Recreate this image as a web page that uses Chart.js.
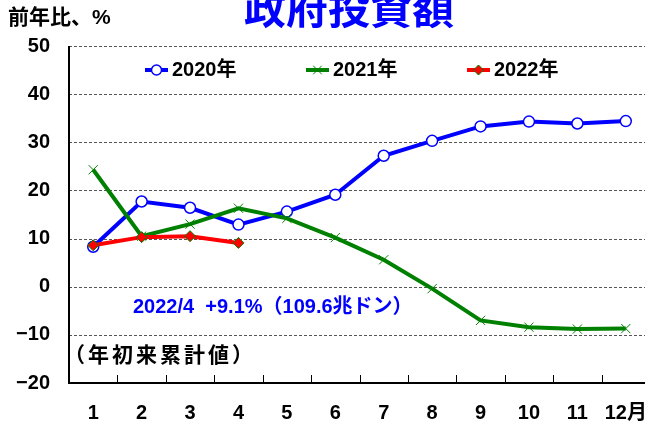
<!DOCTYPE html>
<html><head><meta charset="utf-8">
<script src="https://cdn.jsdelivr.net/npm/chart.js@4/dist/chart.umd.min.js"></script>
<style>
html,body{margin:0;padding:0;background:#fff;overflow:hidden;width:645px;height:426px}
#wrap{position:relative;width:660px;height:426px}
</style></head>
<body><div id="wrap"><canvas id="c" width="660" height="426"></canvas></div>
<script>
const months = ['1','2','3','4','5','6','7','8','9','10','11','12月'];
const y2020 = [8.3,17.7,16.4,12.9,15.6,19.1,27.2,30.3,33.3,34.3,33.9,34.4];
const y2021 = [24.3,10.5,13.0,16.3,14.2,10.2,5.6,-0.4,-7.0,-8.4,-8.8,-8.7];
const y2022 = [8.6,10.3,10.5,9.1];
const yMin = -20, yMax = 50, yStep = 10;
const seriesNames = ['2020年','2021年','2022年'];
const titleText = '政府投資額';
const yTitle = '前年比、%';
const note1 = '2022/4  +9.1%（109.6兆ドン）';
const note2 = '（年初来累計値）';

const FONT = "'Liberation Sans','Noto Sans CJK JP',sans-serif";

const decor = {
  id:'decor',
  beforeDatasetsDraw(chart){
    const {ctx, chartArea:a, scales:{x,y}} = chart;
    ctx.save();
    ctx.strokeStyle = '#555'; ctx.lineWidth = 1; ctx.setLineDash([3,2]);
    y.ticks.forEach(t => {
      if (t.value === yMin) return;
      const py = Math.round(y.getPixelForValue(t.value)) + 0.5;
      ctx.beginPath(); ctx.moveTo(a.left, py); ctx.lineTo(a.right, py); ctx.stroke();
    });
    ctx.setLineDash([]);
    ctx.strokeStyle = '#000'; ctx.lineWidth = 2;
    ctx.beginPath();
    ctx.moveTo(a.left, a.top); ctx.lineTo(a.left, a.bottom); ctx.lineTo(a.right, a.bottom);
    ctx.stroke();
    ctx.lineWidth = 1;
    for (let i = 0; i < months.length - 1; i++) {
      const px = Math.round((x.getPixelForValue(i) + x.getPixelForValue(i+1)) / 2) + 0.5;
      ctx.beginPath(); ctx.moveTo(px, a.bottom); ctx.lineTo(px, a.bottom - 8); ctx.stroke();
    }
    ctx.restore();
  },
  afterDraw(chart){
    const {ctx} = chart;
    ctx.save();
    ctx.fillStyle = '#0000ff';
    ctx.font = "bold 42px 'Noto Sans CJK JP',sans-serif";
    ctx.textAlign = 'center'; ctx.textBaseline = 'middle';
    ctx.fillText(titleText, 349, 8);
    ctx.fillStyle = '#000';
    ctx.font = "bold 21px " + FONT;
    ctx.textAlign = 'left';
    ctx.fillText(yTitle, 8, 18);
    const legendItems = [{x:145, ds:0}, {x:306, ds:1}, {x:467, ds:2}];
    const ly = 70;
    legendItems.forEach(it => {
      const ds = chart.data.datasets[it.ds];
      ctx.strokeStyle = ds.borderColor; ctx.lineWidth = 4;
      ctx.beginPath(); ctx.moveTo(it.x, ly); ctx.lineTo(it.x + 23, ly); ctx.stroke();
      ctx.fillStyle = ds.pointBackgroundColor || '#fff';
      ctx.strokeStyle = ds.pointBorderColor; ctx.lineWidth = ds.pointBorderWidth;
      Chart.helpers.drawPoint(ctx, {pointStyle: ds.pointStyle, radius: ds.pointRadius - 0.5, rotation: 0, borderWidth: ds.pointBorderWidth}, it.x + 11.5, ly);
      ctx.fillStyle = '#000';
      ctx.font = "bold 20px " + FONT;
      ctx.textAlign = 'left'; ctx.textBaseline = 'middle';
      ctx.fillText(ds.label, it.x + 27, ly);
    });
    ctx.fillStyle = '#0000ff';
    ctx.font = "bold 20px " + FONT;
    ctx.fillText(note1, 133, 307);
    ctx.fillStyle = '#000';
    ctx.font = "bold 21px " + FONT;
    ctx.letterSpacing = '3px';
    ctx.fillText(note2, 64, 356);
    ctx.restore();
  }
};

new Chart(document.getElementById('c'), {
  type:'line',
  data:{labels:months, datasets:[
    {label:seriesNames[0], data:y2020, order:2, borderColor:'#0000ff', borderWidth:4, pointStyle:'circle', pointRadius:5.5, pointBackgroundColor:'#ffffff', pointBorderColor:'#0000ff', pointBorderWidth:1.5, tension:0},
    {label:seriesNames[1], data:y2021, order:1, borderColor:'#008000', borderWidth:4, pointStyle:'crossRot', pointRadius:6.5, pointBackgroundColor:'#008000', pointBorderColor:'#008000', pointBorderWidth:1, tension:0},
    {label:seriesNames[2], data:y2022, order:0, borderColor:'#ff0000', borderWidth:4, pointStyle:'rectRot', pointRadius:5.5, pointBackgroundColor:'#ff0000', pointBorderColor:'#008000', pointBorderWidth:1, tension:0}
  ]},
  options:{
    responsive:false, animation:false, devicePixelRatio:1,
    layout:{padding:{left:0, top:46, right:10, bottom:0}},
    plugins:{legend:{display:false}, title:{display:false}, tooltip:{enabled:false}},
    scales:{
      x:{type:'category', offset:true,
         grid:{display:false}, border:{display:false},
         ticks:{color:'#000', font:{family:FONT, size:20, weight:'bold'}, padding:10, maxRotation:0, autoSkip:false},
         afterFit(s){ s.height = 43; }},
      y:{min:yMin, max:yMax,
         grid:{display:false}, border:{display:false},
         ticks:{stepSize:yStep, color:'#000', font:{family:FONT, size:20, weight:'bold'}, padding:11,
                callback:v => v < 0 ? '−' + Math.abs(v) : String(v)},
         afterFit(s){ s.width = 69; }}
    }
  },
  plugins:[decor]
});
</script>
</body></html>
